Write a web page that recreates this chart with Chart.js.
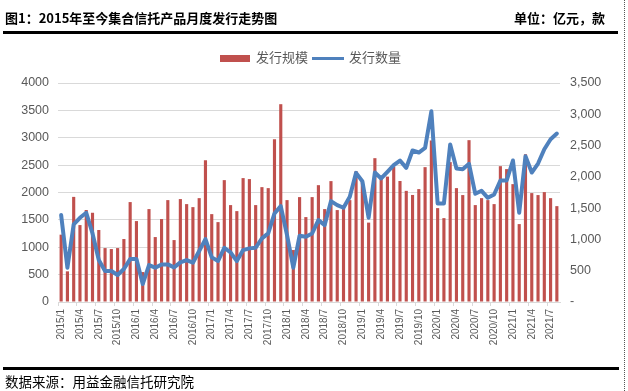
<!DOCTYPE html>
<html>
<head>
<meta charset="utf-8">
<script src="https://cdn.jsdelivr.net/npm/chart.js@4/dist/chart.umd.min.js"></script>
<style>
  body { margin: 0; background: #fff; }
  #wrap { position: relative; width: 628px; height: 391px; overflow: hidden; font-family: "Noto Sans CJK SC", sans-serif; }
  #chart { position: absolute; left: 0; top: 0; }
  .title { position: absolute; top: 9px; font-size: 13px; font-weight: bold; color: #000; line-height: 18px; }
  .rule { position: absolute; left: 3px; height: 3px; background: #000; }
  .border { position: absolute; left: 624px; top: 0; width: 0; height: 391px; border-left: 1px dotted #555; }
  .legend { position: absolute; top: 48px; font-size: 13px; color: #595959; line-height: 18px; }
  .source { position: absolute; left: 5px; top: 372px; font-size: 13.5px; color: #000; line-height: 18px; }
</style>
</head>
<body>
<div id="wrap">
  <canvas id="chart" width="628" height="391"></canvas>
  <div class="title" style="left:5px;">图1：2015年至今集合信托产品月度发行走势图</div>
  <div class="title" style="left:514px;">单位：亿元，款</div>
  <div class="rule" style="top:31px; width:615px;"></div>
  <div class="rule" style="top:367px; width:616px;"></div>
  <div class="border"></div>
  <div class="legend" style="left:220px;"><span style="display:inline-block;width:30px;height:7px;background:#C0504D;vertical-align:middle;margin-right:6px;"></span>发行规模</div>
  <div class="legend" style="left:312px;"><span style="display:inline-block;width:32px;height:3px;background:#4F81BD;vertical-align:middle;margin-right:5px;"></span>发行数量</div>
  <div class="source">数据来源：用益金融信托研究院</div>
</div>
<script>
const months = [
  "2015/1","2015/2","2015/3","2015/4","2015/5","2015/6","2015/7","2015/8","2015/9","2015/10","2015/11","2015/12",
  "2016/1","2016/2","2016/3","2016/4","2016/5","2016/6","2016/7","2016/8","2016/9","2016/10","2016/11","2016/12",
  "2017/1","2017/2","2017/3","2017/4","2017/5","2017/6","2017/7","2017/8","2017/9","2017/10","2017/11","2017/12",
  "2018/1","2018/2","2018/3","2018/4","2018/5","2018/6","2018/7","2018/8","2018/9","2018/10","2018/11","2018/12",
  "2019/1","2019/2","2019/3","2019/4","2019/5","2019/6","2019/7","2019/8","2019/9","2019/10","2019/11","2019/12",
  "2020/1","2020/2","2020/3","2020/4","2020/5","2020/6","2020/7","2020/8","2020/9","2020/10","2020/11","2020/12",
  "2021/1","2021/2","2021/3","2021/4","2021/5","2021/6","2021/7","2021/8"
];

// 发行规模 (亿元)
const scale_values = [
  1230, 560, 1920, 1405, 1680, 1630, 1315, 985, 967, 985, 1150, 1825,
  1478, 547, 1697, 1186, 1515, 1861, 1131, 1880, 1788, 1733, 1897, 2591,
  1605, 1459, 2226, 1770, 1660, 2263, 2245, 1770, 2098, 2080, 2974, 3613,
  1861, 949, 1916, 1551, 1916, 2134, 1697, 2208, 1679, 1697, 1861, 2390,
  2200, 1450, 2627, 2270, 2290, 2470, 2210, 2030, 1955, 2062, 2463, 2950,
  1715, 1532, 2555, 2080, 1953, 2956, 1770, 1897, 1861, 1788, 2481, 2427,
  2153, 1423, 2700, 1989, 1953, 2007, 1897, 1751
];

// 发行数量 (款)
const count_values = [
  1389, 548, 1240, 1346, 1426, 1096, 670, 495, 495, 431, 527, 686,
  686, 287, 590, 548, 601, 601, 553, 633, 670, 628, 814, 1005,
  713, 654, 867, 793, 654, 830, 857, 867, 1016, 1096, 1415, 1532,
  1069, 548, 1059, 1043, 1096, 1309, 1229, 1612, 1548, 1506, 1681, 2064,
  1931, 1346, 2069, 1974, 2080, 2187, 2261, 2144, 2421, 2389, 2463, 3048,
  1575, 1575, 2516, 2133, 2123, 2208, 1729, 1777, 1665, 1718, 1942, 1942,
  2261, 1426, 2330, 2069, 2213, 2442, 2601, 2692
];

const tickColor = "#595959";
const gridColor = "#D9D9D9";

const ctx = document.getElementById("chart");
const chart = new Chart(ctx, {
  data: {
    labels: months,
    datasets: [{
      type: "bar",
      label: "发行规模",
      data: scale_values,
      backgroundColor: "#C0504D",
      barPercentage: 0.5,
      categoryPercentage: 1.0,
      yAxisID: "y",
      order: 2
    }, {
      type: "line",
      label: "发行数量",
      data: count_values,
      borderColor: "#4F81BD",
      borderWidth: 4,
      pointRadius: 0,
      tension: 0,
      borderJoinStyle: "round",
      borderCapStyle: "round",
      fill: false,
      yAxisID: "y1",
      order: 1
    }]
  },
  options: {
    responsive: false,
    animation: false,
    layout: { padding: { top: 83, left: 0, right: 0, bottom: 0 } },
    plugins: {
      legend: { display: false },
      tooltip: { enabled: false }
    },
    scales: {
      x: {
        offset: true,
        grid: {
          offset: true,
          drawOnChartArea: false,
          drawTicks: true,
          tickLength: 4,
          color: (c) => (c.index % 3 === 0 ? gridColor : "transparent")
        },
        border: { display: true, color: gridColor },
        ticks: {
          autoSkip: false,
          minRotation: 90,
          maxRotation: 90,
          padding: 3,
          color: tickColor,
          font: { family: "Liberation Sans", size: 10 },
          callback: function (val, index) {
            return index % 3 === 0 ? months[index] : "";
          }
        },
        afterFit: (s) => { s.height = 89; }
      },
      y: {
        position: "left",
        min: 0,
        max: 4000,
        grid: { color: gridColor, drawTicks: false },
        border: { display: false },
        ticks: {
          stepSize: 500,
          padding: 9,
          color: tickColor,
          font: { family: "Liberation Sans", size: 12.5 },
          callback: (v) => String(v)
        },
        afterFit: (s) => { s.width = 58; }
      },
      y1: {
        position: "right",
        min: 0,
        max: 3500,
        grid: { drawOnChartArea: false, drawTicks: false },
        border: { display: false },
        ticks: {
          stepSize: 500,
          padding: 10,
          color: tickColor,
          font: { family: "Liberation Sans", size: 12.5 },
          callback: (v) => (v === 0 ? "-" : v.toLocaleString("en-US"))
        },
        afterFit: (s) => { s.width = 68; }
      }
    }
  }
});
</script>
</body>
</html>
